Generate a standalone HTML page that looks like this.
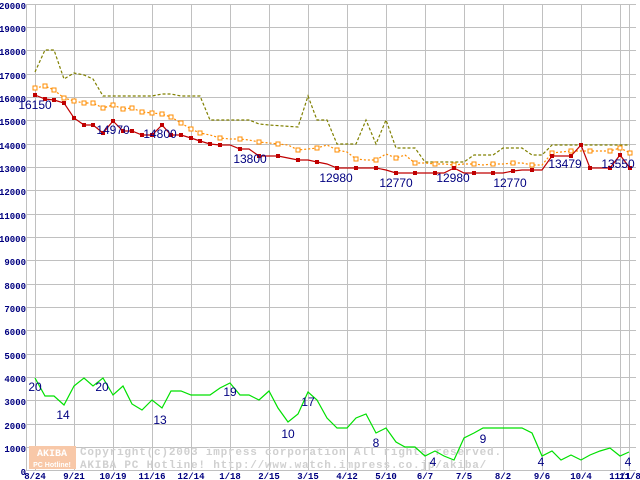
<!DOCTYPE html>
<html><head><meta charset="utf-8"><style>body{margin:0;background:#fff}svg{display:block}</style></head><body>
<svg width="640" height="480" xmlns="http://www.w3.org/2000/svg">
<rect width="640" height="480" fill="#fff"/>
<g stroke="#c0c0c0" stroke-width="1">
<path d="M26 4.5H636M26 27.5H636M26 50.5H636M26 74.5H636M26 97.5H636M26 120.5H636M26 144.5H636M26 167.5H636M26 190.5H636M26 214.5H636M26 237.5H636M26 260.5H636M26 284.5H636M26 307.5H636M26 330.5H636M26 354.5H636M26 377.5H636M26 400.5H636M26 424.5H636M26 447.5H636M26 470.5H636"/>
<path d="M26.5 4V471M35.5 4V471M74.5 4V471M113.5 4V471M152.5 4V471M191.5 4V471M230.5 4V471M269.5 4V471M308.5 4V471M347.5 4V471M386.5 4V471M425.5 4V471M464.5 4V471M503.5 4V471M542.5 4V471M581.5 4V471M620.5 4V471M629.5 4V471"/>
</g>
<g font-family="Liberation Mono, monospace" font-size="9" font-weight="bold" fill="#000080" text-anchor="end">
<text x="26" y="9">20000</text><text x="26" y="32">19000</text><text x="26" y="55">18000</text><text x="26" y="79">17000</text><text x="26" y="102">16000</text><text x="26" y="125">15000</text><text x="26" y="149">14000</text><text x="26" y="172">13000</text><text x="26" y="195">12000</text><text x="26" y="219">11000</text><text x="26" y="242">10000</text><text x="26" y="265">9000</text><text x="26" y="289">8000</text><text x="26" y="312">7000</text><text x="26" y="335">6000</text><text x="26" y="359">5000</text><text x="26" y="382">4000</text><text x="26" y="405">3000</text><text x="26" y="429">2000</text><text x="26" y="452">1000</text><text x="26" y="475">0</text>
</g>
<g font-family="Liberation Mono, monospace" font-size="9" font-weight="bold" fill="#000080" text-anchor="middle">
<text x="35" y="479">8/24</text><text x="74" y="479">9/21</text><text x="113" y="479">10/19</text><text x="152" y="479">11/16</text><text x="191" y="479">12/14</text><text x="230" y="479">1/18</text><text x="269" y="479">2/15</text><text x="308" y="479">3/15</text><text x="347" y="479">4/12</text><text x="386" y="479">5/10</text><text x="425" y="479">6/7</text><text x="464" y="479">7/5</text><text x="503" y="479">8/2</text><text x="542" y="479">9/6</text><text x="581" y="479">10/4</text><text x="620" y="479">11/1</text><text x="630" y="479">11/8</text>
</g>
<rect x="29" y="446" width="47" height="23" fill="#f8c8a8"/>
<text x="52" y="456" font-family="Liberation Mono, monospace" font-size="10" font-weight="bold" fill="#fff" text-anchor="middle">AKIBA</text>
<text x="52" y="467" font-family="Liberation Sans, sans-serif" font-size="7" font-weight="bold" fill="#fff" text-anchor="middle">PC Hotline!</text>
<g font-family="Liberation Mono, monospace" font-size="11" font-weight="bold" fill="#d0d0d0" letter-spacing="0.8">
<text x="80" y="455">Copyright(c)2003 impress corporation All rights reserved.</text>
<text x="80" y="468">AKIBA PC Hotline!  http://www.watch.impress.co.jp/akiba/</text>
</g>
<polyline fill="none" stroke="#808000" stroke-width="1.2" stroke-dasharray="3,2" points="35,72 45,50 54,50 64,79 74,73 84,75 93,79 103,96 113,96 152,96 162,94 171,94 181,96 200,96 210,120 220,120 249,120 259,124 269,125 298,127 308,96 317,120 327,120 337,144 356,144 366,120 376,144 386,120 396,148 415,148 425,162 464,162 474,155 493,155 503,148 522,148 532,155 542,155 552,145 630,145"/>
<polyline fill="none" stroke="#ff8c00" stroke-width="1.2" stroke-dasharray="2,2" points="35,88 45,86 54,90 64,98 74,101 84,103 93,103 103,108 113,105 123,109 132,108 142,112 152,113 162,114 171,117 181,123 191,129 200,133 210,135 220,138 230,139 240,139 249,140 259,142 269,143 278,144 288,145 298,150 308,149 317,148 327,145 337,150 347,152 356,159 366,160 376,160 386,154 396,158 405,155 415,163 425,163 435,164 444,164 454,165 464,164 474,164 483,165 493,164 503,164 513,163 522,163 532,165 542,165 552,153 561,152 571,151 581,151 590,151 600,151 610,151 620,148 630,153"/>
<g fill="#fff" stroke="#ff8c00" stroke-width="1">
<rect x="33" y="86" width="4" height="4"/><rect x="43" y="84" width="4" height="4"/><rect x="52" y="88" width="4" height="4"/><rect x="62" y="96" width="4" height="4"/><rect x="72" y="99" width="4" height="4"/><rect x="82" y="101" width="4" height="4"/><rect x="91" y="101" width="4" height="4"/><rect x="101" y="106" width="4" height="4"/><rect x="111" y="103" width="4" height="4"/><rect x="121" y="107" width="4" height="4"/><rect x="130" y="106" width="4" height="4"/><rect x="140" y="110" width="4" height="4"/><rect x="150" y="111" width="4" height="4"/><rect x="160" y="112" width="4" height="4"/><rect x="169" y="115" width="4" height="4"/><rect x="179" y="121" width="4" height="4"/><rect x="189" y="127" width="4" height="4"/><rect x="198" y="131" width="4" height="4"/><rect x="218" y="136" width="4" height="4"/><rect x="238" y="137" width="4" height="4"/><rect x="257" y="140" width="4" height="4"/><rect x="276" y="142" width="4" height="4"/><rect x="296" y="148" width="4" height="4"/><rect x="315" y="146" width="4" height="4"/><rect x="335" y="148" width="4" height="4"/><rect x="354" y="157" width="4" height="4"/><rect x="374" y="158" width="4" height="4"/><rect x="394" y="156" width="4" height="4"/><rect x="413" y="161" width="4" height="4"/><rect x="433" y="162" width="4" height="4"/><rect x="452" y="163" width="4" height="4"/><rect x="472" y="162" width="4" height="4"/><rect x="491" y="162" width="4" height="4"/><rect x="511" y="161" width="4" height="4"/><rect x="530" y="163" width="4" height="4"/><rect x="550" y="151" width="4" height="4"/><rect x="569" y="149" width="4" height="4"/><rect x="588" y="149" width="4" height="4"/><rect x="608" y="149" width="4" height="4"/><rect x="618" y="146" width="4" height="4"/><rect x="628" y="151" width="4" height="4"/>
</g>
<polyline fill="none" stroke="#c00000" stroke-width="1.2" points="35,95 45,99 54,100 64,103 74,118 84,125 93,125 103,133 113,121 123,131 132,131 142,135 152,135 162,125 171,135 181,135 191,138 200,141 210,144 220,145 230,145 240,149 249,149 259,156 269,156 278,156 288,158 298,160 308,160 317,162 327,164 337,168 347,168 356,168 366,168 376,168 386,170 396,173 405,173 415,173 425,173 435,173 444,173 454,168 464,173 474,173 483,173 493,173 503,173 513,171 522,170 532,170 542,170 552,156 561,156 571,156 581,145 590,168 600,168 610,168 620,155 630,168"/>
<g fill="#c00000">
<rect x="33" y="93" width="4" height="4"/><rect x="43" y="97" width="4" height="4"/><rect x="52" y="98" width="4" height="4"/><rect x="62" y="101" width="4" height="4"/><rect x="72" y="116" width="4" height="4"/><rect x="82" y="123" width="4" height="4"/><rect x="91" y="123" width="4" height="4"/><rect x="101" y="131" width="4" height="4"/><rect x="111" y="119" width="4" height="4"/><rect x="121" y="129" width="4" height="4"/><rect x="130" y="129" width="4" height="4"/><rect x="140" y="133" width="4" height="4"/><rect x="150" y="133" width="4" height="4"/><rect x="160" y="123" width="4" height="4"/><rect x="169" y="133" width="4" height="4"/><rect x="179" y="133" width="4" height="4"/><rect x="189" y="136" width="4" height="4"/><rect x="198" y="139" width="4" height="4"/><rect x="208" y="142" width="4" height="4"/><rect x="218" y="143" width="4" height="4"/><rect x="238" y="147" width="4" height="4"/><rect x="257" y="154" width="4" height="4"/><rect x="276" y="154" width="4" height="4"/><rect x="296" y="158" width="4" height="4"/><rect x="315" y="160" width="4" height="4"/><rect x="335" y="166" width="4" height="4"/><rect x="354" y="166" width="4" height="4"/><rect x="374" y="166" width="4" height="4"/><rect x="394" y="171" width="4" height="4"/><rect x="413" y="171" width="4" height="4"/><rect x="433" y="171" width="4" height="4"/><rect x="452" y="166" width="4" height="4"/><rect x="472" y="171" width="4" height="4"/><rect x="491" y="171" width="4" height="4"/><rect x="511" y="169" width="4" height="4"/><rect x="530" y="168" width="4" height="4"/><rect x="550" y="154" width="4" height="4"/><rect x="569" y="154" width="4" height="4"/><rect x="579" y="143" width="4" height="4"/><rect x="588" y="166" width="4" height="4"/><rect x="608" y="166" width="4" height="4"/><rect x="618" y="153" width="4" height="4"/><rect x="628" y="166" width="4" height="4"/>
</g>
<polyline fill="none" stroke="#00e000" stroke-width="1.2" points="35,378 45,396 54,396 64,405 74,386 84,378 93,386 103,378 113,395 123,386 132,404 142,410 152,400 162,408 171,391 181,391 191,395 210,395 220,388 230,383 240,395 249,395 259,400 269,391 278,408 288,422 298,414 308,392 317,400 327,418 337,428 347,428 356,418 366,414 376,433 386,428 396,442 405,447 415,447 425,456 435,451 444,456 454,460 464,438 474,433 483,428 522,428 532,433 542,456 552,451 561,460 571,455 581,460 590,455 600,451 610,448 620,456 629,452"/>
<g font-family="Liberation Sans, sans-serif" font-size="12" fill="#000080" text-anchor="middle">
<text x="35" y="109">16150</text><text x="113" y="134">14970</text><text x="160" y="138">14800</text><text x="250" y="163">13800</text><text x="336" y="182">12980</text><text x="396" y="187">12770</text><text x="453" y="182">12980</text><text x="510" y="187">12770</text><text x="565" y="168">13479</text><text x="618" y="168">13550</text>
<text x="35" y="391">20</text><text x="63" y="419">14</text><text x="102" y="391">20</text><text x="160" y="424">13</text><text x="230" y="396">19</text><text x="288" y="438">10</text><text x="308" y="406">17</text><text x="376" y="447">8</text><text x="433" y="466">4</text><text x="483" y="443">9</text><text x="541" y="466">4</text><text x="628" y="466">4</text>
</g>
</svg>
</body></html>
